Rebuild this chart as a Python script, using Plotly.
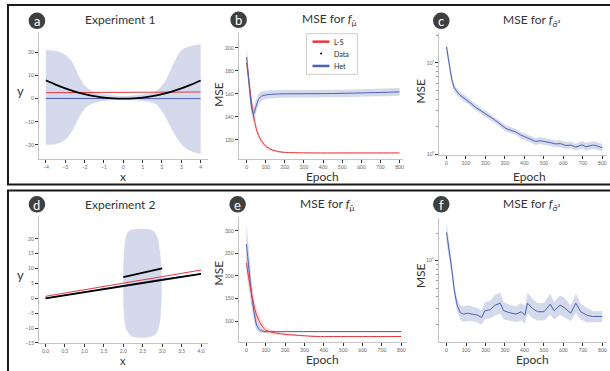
import plotly.graph_objects as go

W, H = 610, 371
def px(x): return x / W
def py(y): return 1 - y / H

RED = "#e8383d"
BLUE = "#4a62b6"
BAND_BLUE = "rgba(60,85,170,0.22)"
BAND_RED = "rgba(235,60,60,0.18)"
FONT = "Lato"

# ---------------- Panel a: Experiment 1 ----------------
a_x = [-4, -3.5, -3, -2.5, -2, -1.5, -1, -0.5, 0, 0.5, 1, 1.5, 2, 2.5, 3, 3.5, 4]
a_data = [8.0, 6.1, 4.5, 3.1, 2.0, 1.1, 0.5, 0.1, 0.0, 0.1, 0.5, 1.1, 2.0, 3.1, 4.5, 6.1, 7.9]
a_line_x = [-4, 4]
a_ls = [2.6, 2.9]
a_het = [0.1, 0.0]
a_band_x = [-4, -3.5, -3, -2.6, -2.25, -1.9, -1.4, -0.7, 0, 0.7, 1.4, 1.7, 2.15, 2.6, 3.0, 3.45, 4.0]
a_band_hi = [21.0, 20.8, 19.0, 15.3, 9.0, 5.0, 2.7, 1.6, 1.2, 1.6, 2.5, 3.3, 7.4, 15.3, 21.0, 22.7, 23.6]
a_band_lo = [-20.0, -19.7, -17.8, -13.3, -7.6, -3.6, -1.6, -0.8, -0.6, -0.8, -1.5, -2.4, -7.6, -14.7, -19.7, -22.6, -24.0]

# ---------------- Panel b: MSE for f_mu (exp 1) ----------------
b_ls_ep = [0, 8, 15, 25, 33, 42, 50, 62, 76, 90, 103, 120, 137, 160, 190, 250, 350, 500, 650, 800]
b_ls_val = [187, 177, 167, 154, 144, 136, 130, 124, 119.5, 116.3, 114, 112.2, 111, 110, 109.2, 108.8, 108.6, 108.6, 108.6, 108.6]
b_ls_sd = [6, 6, 5.5, 5, 4.5, 4, 3.5, 3, 2.5, 2, 1.5, 1.2, 1, 0.8, 0.7, 0.6, 0.5, 0.5, 0.5, 0.5]
b_het_ep = [0, 6, 12, 18, 24, 30, 35, 40, 45, 52, 59, 67, 76, 90, 103, 130, 190, 300, 450, 600, 700, 800]
b_het_val = [192, 181, 170, 159, 150, 145, 142.5, 143.5, 146.8, 150.5, 154, 156.2, 157.8, 158.7, 159.1, 159.6, 160, 160.1, 160.3, 160.8, 161.2, 161.7]
b_het_sd = [10, 9, 8, 7.5, 7, 6.5, 6.5, 6.5, 6, 5.5, 5, 4.5, 4, 3.8, 3.6, 3.5, 3.4, 3.3, 3.3, 3.3, 3.3, 3.3]

# ---------------- Panel c: MSE for f_sigma2 (exp 1) ----------------
c_ep = [0, 14, 27, 39, 50, 65, 80, 99, 125, 150, 175, 202, 228, 253, 278, 304, 330, 356, 380, 407,
        430, 458, 480, 509, 535, 561, 585, 612, 640, 663, 680, 697, 715, 732, 750, 766, 785, 800]
c_val = [14.9, 10, 6.6, 5.35, 4.9, 4.5, 4.25, 4.0, 3.6, 3.24, 2.97, 2.74, 2.52, 2.32, 2.1, 1.91, 1.82, 1.74, 1.62, 1.53,
         1.45, 1.37, 1.40, 1.37, 1.33, 1.29, 1.30, 1.24, 1.25, 1.19, 1.23, 1.26, 1.20, 1.22, 1.25, 1.24, 1.20, 1.17]
c_spread = [1.18, 1.14, 1.12, 1.1, 1.09, 1.09, 1.08, 1.08, 1.08, 1.08, 1.08, 1.08, 1.08, 1.08, 1.08, 1.08, 1.08, 1.08, 1.08, 1.08,
            1.08, 1.09, 1.09, 1.09, 1.09, 1.09, 1.09, 1.09, 1.09, 1.09, 1.1, 1.1, 1.1, 1.1, 1.1, 1.1, 1.1, 1.1]

# ---------------- Panel d: Experiment 2 ----------------
d_data_x = [0, 4, None, 2.0, 3.0]
d_data_y = [0, 8.2, None, 7.1, 10.1]
d_line_x = [0, 4]
d_ls = [0.67, 9.5]
d_het_x = [0, 2.0, 3.0, 4.0]
d_het = [0.05, 4.45, 6.45, 8.2]
d_blob_x = [2.00, 2.01, 2.05, 2.13, 2.3, 2.5, 2.7, 2.85, 2.93, 2.98, 2.99, 2.97, 2.92, 2.82, 2.6, 2.4, 2.22, 2.08, 2.02, 2.00]
d_blob_y = [5, 14, 19.5, 22.5, 23.2, 23.3, 23.1, 21.5, 17, 10, 3, -4, -9.5, -12.3, -13.2, -13.3, -12.8, -10.6, -6, 5]

# ---------------- Panel e: MSE for f_mu (exp 2) ----------------
e_ls_ep = [0, 8, 17, 25, 34, 42, 51, 64, 77, 90, 103, 130, 155, 200, 275, 361, 450, 600, 800]
e_ls_val = [229, 206, 185, 164, 145, 129, 115.4, 102, 91.2, 84, 78.9, 75.5, 73, 70.5, 68, 65.7, 65.7, 65.7, 65.7]
e_ls_sd = [25, 25, 24, 23, 21, 19, 17, 14, 11, 9, 7, 5, 4, 3, 2, 1.5, 1.2, 1, 1]
e_het_ep = [0, 7, 14, 20, 26, 33, 40, 46, 51, 60, 69, 80, 94, 120, 200, 400, 600, 800]
e_het_val = [271, 243, 214, 188, 163, 140, 119, 104, 93.4, 85.5, 80.2, 78, 76.7, 76.6, 76.6, 76.6, 76.6, 76.6]
e_het_sd = [45, 42, 38, 33, 28, 24, 20, 16, 13, 9, 6, 4, 3, 2, 1.5, 1.5, 1.5, 1.5]

# ---------------- Panel f: MSE for f_sigma2 (exp 2) ----------------
f_ep = [0, 14, 27, 39, 53, 70, 87, 108, 134, 159, 180, 197, 224, 248, 276, 293, 322, 356, 385, 402,
        416, 441, 467, 501, 532, 552, 583, 604, 638, 664, 689, 720, 749, 774, 800]
f_val = [20.4, 13.2, 7.98, 4.84, 3.33, 2.69, 2.59, 2.65, 2.59, 2.52, 2.38, 2.82, 2.89, 3.24, 3.41, 2.82, 2.69, 2.59, 2.75, 2.52,
         3.41, 2.99, 2.75, 2.75, 3.33, 2.82, 3.24, 3.06, 2.65, 3.41, 2.75, 2.52, 2.44, 2.42, 2.44]
f_spread = [1.3, 1.25, 1.2, 1.18, 1.18, 1.2, 1.22, 1.22, 1.2, 1.2, 1.2, 1.25, 1.25, 1.3, 1.3, 1.25, 1.22, 1.22, 1.25, 1.25,
            1.3, 1.28, 1.25, 1.25, 1.3, 1.25, 1.28, 1.28, 1.22, 1.28, 1.22, 1.2, 1.15, 1.15, 1.15]

# ---------------- tick labels / legend ----------------
a_xticks = [-4, -3, -2, -1, 0, 1, 2, 3, 4]
a_yticks = [-20, -10, 0, 10, 20]
ep_ticks = [0, 100, 200, 300, 400, 500, 600, 700, 800]
b_yticks = [120, 140, 160, 180, 200]
c_yticks = [1, 10]
c_yticklabels = ["10⁰", "10¹"]
d_xticks = [0, 0.5, 1.0, 1.5, 2.0, 2.5, 3.0, 3.5, 4.0]
d_yticks = [-15, -10, -5, 0, 5, 10, 15, 20]
e_yticks = [100, 150, 200, 250, 300]
f_yticks = [10]
f_yticklabels = ["10¹"]
legend_names = ["L-S", "Data", "Het"]

fig = go.Figure()

def band(x, lo, hi, color, xa, ya, shape="linear"):
    fig.add_trace(go.Scatter(x=x, y=lo, mode="lines", line=dict(width=0, shape=shape),
                             xaxis=xa, yaxis=ya, showlegend=False, hoverinfo="skip"))
    fig.add_trace(go.Scatter(x=x, y=hi, mode="lines", line=dict(width=0, shape=shape),
                             fill="tonexty", fillcolor=color,
                             xaxis=xa, yaxis=ya, showlegend=False, hoverinfo="skip"))

def line(x, y, color, width, xa, ya, shape="linear", **kw):
    fig.add_trace(go.Scatter(x=x, y=y, mode="lines", line=dict(color=color, width=width, shape=shape),
                             xaxis=xa, yaxis=ya, showlegend=False, **kw))

# panel a
band(a_band_x, a_band_lo, a_band_hi, BAND_BLUE, "x", "y", "spline")
line(a_line_x, a_het, BLUE, 1, "x", "y", name="Het")
line(a_line_x, a_ls, RED, 1, "x", "y", name="L-S")
line(a_x, a_data, "black", 1.8, "x", "y", "spline", name="Data")

# panel b
band(b_ls_ep, [v - s for v, s in zip(b_ls_val, b_ls_sd)], [v + s for v, s in zip(b_ls_val, b_ls_sd)], BAND_RED, "x2", "y2", "spline")
band(b_het_ep, [v - s for v, s in zip(b_het_val, b_het_sd)], [v + s for v, s in zip(b_het_val, b_het_sd)], BAND_BLUE, "x2", "y2", "spline")
line(b_ls_ep, b_ls_val, RED, 1, "x2", "y2", "spline", name="L-S")
line(b_het_ep, b_het_val, BLUE, 1, "x2", "y2", "spline", name="Het")

# panel c
band(c_ep, [v / s for v, s in zip(c_val, c_spread)], [v * s for v, s in zip(c_val, c_spread)], BAND_BLUE, "x3", "y3")
line(c_ep, c_val, BLUE, 1, "x3", "y3", name="Het")

# panel d
fig.add_trace(go.Scatter(x=d_blob_x, y=d_blob_y, mode="lines", fill="toself", fillcolor=BAND_BLUE,
                         line=dict(width=0, shape="spline"), xaxis="x4", yaxis="y4", showlegend=False, hoverinfo="skip"))
line(d_het_x, d_het, BLUE, 1, "x4", "y4", name="Het")
line(d_line_x, d_ls, RED, 1, "x4", "y4", name="L-S")
line(d_data_x, d_data_y, "black", 1.8, "x4", "y4", name="Data")

# panel e
band(e_ls_ep, [v - s for v, s in zip(e_ls_val, e_ls_sd)], [v + s for v, s in zip(e_ls_val, e_ls_sd)], BAND_RED, "x5", "y5", "spline")
band(e_het_ep, [v - s for v, s in zip(e_het_val, e_het_sd)], [v + s for v, s in zip(e_het_val, e_het_sd)], BAND_BLUE, "x5", "y5", "spline")
line(e_het_ep, e_het_val, BLUE, 1, "x5", "y5", "spline", name="Het")
line(e_ls_ep, e_ls_val, RED, 1, "x5", "y5", "spline", name="L-S")

# panel f
band(f_ep, [v / s for v, s in zip(f_val, f_spread)], [v * s for v, s in zip(f_val, f_spread)], BAND_BLUE, "x6", "y6")
line(f_ep, f_val, BLUE, 1, "x6", "y6", name="Het")

def ax(**kw):
    base = dict(showline=True, linecolor="#c4c4c4", linewidth=1, ticks="outside", ticklen=3,
                tickcolor="#333", tickwidth=1, tickfont=dict(size=5, color="#666", family=FONT),
                showgrid=False, zeroline=False, fixedrange=True)
    base.update(kw)
    return base

ep_ax = dict(tickvals=ep_ticks)
minor_log = dict(ticks="outside", ticklen=2, tickcolor="#999", tickvals=[2, 3, 4, 5, 6, 7, 8, 9, 20])

fig.update_layout(
    width=W, height=H, margin=dict(l=0, r=0, t=0, b=0),
    paper_bgcolor="white", plot_bgcolor="white",
    font=dict(family=FONT, color="#333"),
    showlegend=False,
    xaxis=ax(domain=[px(39), px(208)], range=[-4.36, 4.36], anchor="y", tickvals=a_xticks),
    yaxis=ax(domain=[py(160), py(32)], range=[-26, 29], anchor="x", tickvals=a_yticks),
    xaxis2=ax(domain=[px(239), px(404)], range=[-42, 820], anchor="y2", **ep_ax),
    yaxis2=ax(domain=[py(160), py(32)], range=[103.6, 214], anchor="x2", tickvals=b_yticks),
    xaxis3=ax(domain=[px(440), px(608)], range=[-37, 824], anchor="y3", **ep_ax),
    yaxis3=ax(domain=[py(156), py(33)], type="log", range=[-0.008, 1.329], anchor="x3",
              tickvals=c_yticks, ticktext=c_yticklabels, minor=minor_log),
    xaxis4=ax(domain=[px(39), px(208)], range=[-0.17, 4.17], anchor="y4", tickvals=d_xticks, tickformat=".1f"),
    yaxis4=ax(domain=[py(345.7), py(218)], range=[-15, 27.6], anchor="x4", tickvals=d_yticks),
    xaxis5=ax(domain=[px(239), px(408)], range=[-40, 831], anchor="y5", **ep_ax),
    yaxis5=ax(domain=[py(345), py(218.3)], range=[53, 331.6], anchor="x5", tickvals=e_yticks),
    xaxis6=ax(domain=[px(439.3), px(608)], range=[-41, 824], anchor="y6", **ep_ax),
    yaxis6=ax(domain=[py(344.3), py(220)], type="log", range=[0.113, 1.464], anchor="x6",
              tickvals=f_yticks, ticktext=f_yticklabels, minor=minor_log),
)

shapes = []
annotations = []
# frames
shapes.append(dict(type="rect", xref="paper", yref="paper", x0=px(8), x1=1.02, y0=py(186), y1=py(5),
                   line=dict(color="#1a1a1a", width=2), layer="above"))
shapes.append(dict(type="rect", xref="paper", yref="paper", x0=px(8), x1=1.02, y0=-0.02, y1=py(192),
                   line=dict(color="#1a1a1a", width=2), layer="above"))

# legend (panel b)
shapes.append(dict(type="rect", xref="paper", yref="paper", x0=px(307), x1=px(358), y0=py(75), y1=py(34),
                   fillcolor="white", line=dict(color="#cfcfcf", width=1), layer="above"))
leg_rows = [(legend_names[0], 42, "line", RED), (legend_names[1], 54, "dot", "black"), (legend_names[2], 66.5, "line", BLUE)]
for name, ly, kind, col in leg_rows:
    if kind == "line":
        shapes.append(dict(type="line", xref="paper", yref="paper", x0=px(313), x1=px(330), y0=py(ly), y1=py(ly),
                           line=dict(color=col, width=2.5), layer="above"))
    else:
        shapes.append(dict(type="circle", xref="paper", yref="paper", x0=px(320.6), x1=px(322.6),
                           y0=py(ly + 1), y1=py(ly - 1), fillcolor=col, line=dict(width=0), layer="above"))
    annotations.append(dict(text=name, x=px(333), y=py(ly), xref="paper", yref="paper", showarrow=False,
                            font=dict(size=7, color="#222", family=FONT), xanchor="left", yanchor="middle"))

# panel badges
badges = [("a", 37, 21), ("b", 239, 20), ("c", 442, 21), ("d", 37, 206), ("e", 238, 206), ("f", 442, 206)]
for letter, cx, cy in badges:
    r = 8.3
    shapes.append(dict(type="circle", xref="paper", yref="paper", x0=px(cx - r), x1=px(cx + r),
                       y0=py(cy + r), y1=py(cy - r), fillcolor="#3f3f3f", line=dict(width=0)))
    annotations.append(dict(text=letter, x=px(cx), y=py(cy + 0.5), xref="paper", yref="paper", showarrow=False,
                            font=dict(size=13, color="white", family=FONT), xanchor="center", yanchor="middle"))

mu_title = "MSE for <i>f</i><sub>μ̂</sub>"
s2_title = "MSE for <i>f</i><sub>σ̂²</sub>"
texts = [
    ("Experiment 1", 120, 20, 12, 0), (mu_title, 330, 20, 12, 0), (s2_title, 533, 21, 12, 0),
    ("Experiment 2", 120, 206, 12, 0), (mu_title, 328, 206, 12, 0), (s2_title, 533, 206, 12, 0),
    ("y", 21, 92, 13, 0), ("x", 123, 177.5, 12, 0), ("MSE", 219, 95, 12, -90), ("Epoch", 323, 177.5, 12, 0),
    ("MSE", 421, 92, 12, -90), ("Epoch", 530, 177.5, 12, 0),
    ("y", 21, 277, 13, 0), ("x", 123, 363.5, 11, 0), ("MSE", 219, 275, 12, -90), ("Epoch", 323, 362, 12, 0),
    ("MSE", 421, 278, 12, -90), ("Epoch", 533, 362, 12, 0),
]
for t, x, y, s, ang in texts:
    annotations.append(dict(text=t, x=px(x), y=py(y), xref="paper", yref="paper", showarrow=False,
                            font=dict(size=s, color="#333", family=FONT), textangle=ang,
                            xanchor="center", yanchor="middle"))

fig.update_layout(shapes=shapes, annotations=annotations)
fig.write_html("out.html")
